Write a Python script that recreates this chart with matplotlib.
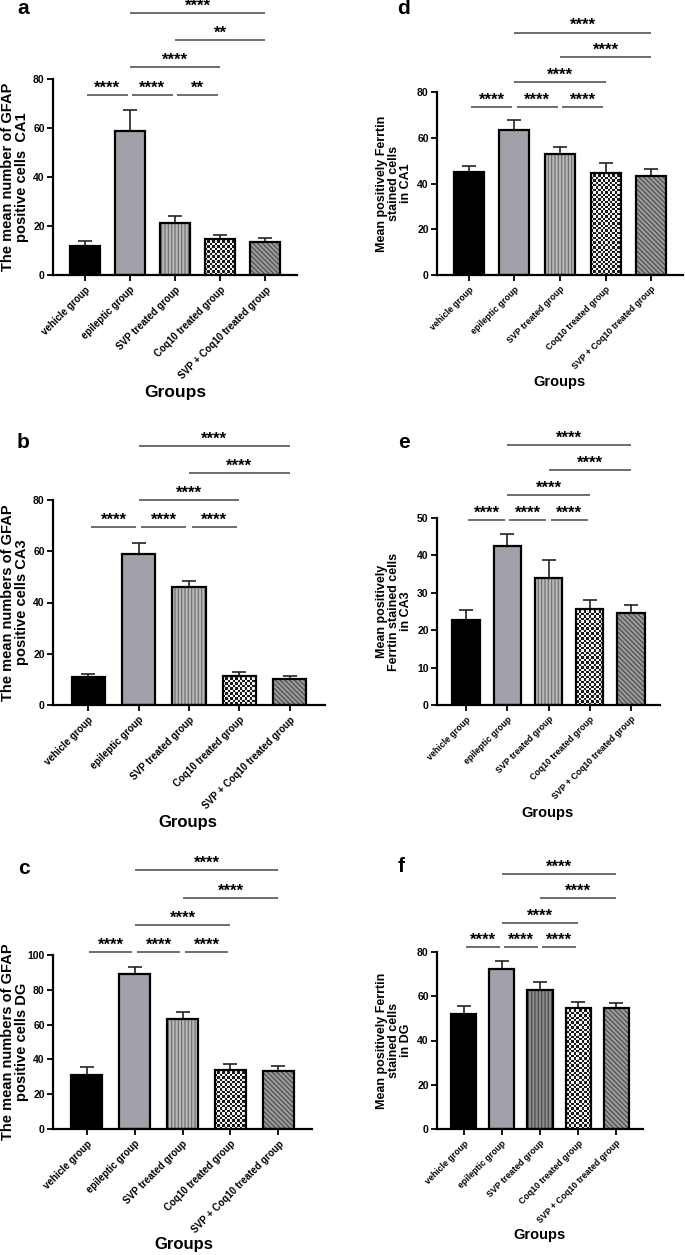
import numpy as np
import matplotlib
matplotlib.use('Agg')
import matplotlib.pyplot as plt

plt.rcParams['font.family'] = ['Liberation Sans', 'DejaVu Sans']
plt.rcParams['font.weight'] = 'bold'
plt.rcParams['hatch.linewidth'] = 0.8

W, H = 685, 1255

groups = ['vehicle group', 'epileptic group', 'SVP treated group',
          'Coq10 treated group', 'SVP + Coq10 treated group']

# panel values (mean, SEM)
a_mean = [11.9, 58.7, 21.3, 14.8, 13.6]
a_err = [2.0, 8.7, 2.8, 1.5, 1.4]
b_mean = [10.8, 58.8, 45.9, 11.4, 10.3]
b_err = [1.2, 4.4, 2.5, 1.5, 1.0]
c_mean = [30.8, 89.1, 63.3, 34.0, 33.5]
c_err = [4.6, 3.8, 3.8, 3.1, 2.6]
d_mean = [44.9, 63.3, 52.9, 44.7, 43.4]
d_err = [2.8, 4.4, 3.2, 4.4, 2.8]
e_mean = [22.8, 42.4, 33.9, 25.8, 24.7]
e_err = [2.5, 3.4, 5.0, 2.3, 2.1]
f_mean = [51.8, 72.3, 62.9, 54.8, 54.8]
f_err = [3.6, 3.8, 3.4, 2.6, 2.1]

# significance comparisons: (group i, group j, level)
pairs = [(0, 1, 0), (1, 2, 0), (2, 3, 0), (1, 3, 1), (2, 4, 2), (1, 4, 3)]
a_stars = ['****', '****', '**', '****', '**', '****']
all_stars = ['****'] * 6

fig = plt.figure(figsize=(W / 100, H / 100), dpi=100)


def px_axes(x0, x1, ytop, ybot):
    return fig.add_axes([x0 / W, 1 - ybot / H, (x1 - x0) / W, (ybot - ytop) / H])


def panel(box, means, errs, ymax, ystep, levels, stars, letter, letter_xy,
          ylabel, ylab_x, ylab_fs, groups_xy, groups_fs, xt_fs, svp_dark=False):
    ax = px_axes(*box)
    x = np.arange(len(means))
    w = 0.66
    xlim = (-0.7, 4.7)
    ax.set_xlim(*xlim)
    ax.set_ylim(0, ymax)

    faces = ['black', '#a1a1a9', '#b8b8b8' if not svp_dark else '#8a8a8a', 'white', '#9a9a9a']
    hatches = [None, None, '|||||', None, '\\\\\\\\\\\\\\']
    hcolors = ['black', 'black', '#6a6a6a' if not svp_dark else '#4a4a4a', 'black', '#4a4a4a']
    for i in range(len(means)):
        ax.bar(x[i], means[i], w, color=faces[i], hatch=hatches[i],
               edgecolor=hcolors[i], linewidth=0, zorder=2)
        bar = ax.bar(x[i], means[i], w, fill=False, edgecolor='black',
                     linewidth=1.6, zorder=4)[0]
        if i == 3:
            # checkered texture
            p0 = ax.transData.transform((x[i] - w / 2, 0))
            p1 = ax.transData.transform((x[i] + w / 2, means[i]))
            nc = max(2, int(round((p1[0] - p0[0]) / 2.4)))
            nr = max(2, int(round((p1[1] - p0[1]) / 2.4)))
            tex = (np.add.outer(np.arange(nr), np.arange(nc)) % 2) * 0.85 + 0.1
            im = ax.imshow(tex, cmap='gray', vmin=0, vmax=1, aspect='auto',
                           interpolation='nearest', zorder=3,
                           extent=(x[i] - w / 2, x[i] + w / 2, 0, means[i]))
            im.set_clip_path(bar)
    ax.set_xlim(*xlim)
    ax.set_ylim(0, ymax)
    ax.errorbar(x, means, yerr=[np.zeros(len(errs)), errs], fmt='none',
                ecolor='#222222', elinewidth=1.2, capsize=5, capthick=1.2, zorder=1)

    for (i, j, lv), s in zip(pairs, stars):
        y = levels[lv]
        x1, x2 = i, j
        if lv == 0:
            x1 += 0.05
            x2 -= 0.05
        ax.plot([x1, x2], [y, y], color='#555555', lw=1.2, clip_on=False,
                solid_capstyle='butt')
        ax.annotate(s, ((x1 + x2) / 2, y), xytext=(0, -0.5), textcoords='offset points',
                    ha='center', va='bottom', fontsize=12, fontweight='bold',
                    annotation_clip=False)

    for sp in ['top', 'right']:
        ax.spines[sp].set_visible(False)
    for sp in ['left', 'bottom']:
        ax.spines[sp].set_linewidth(1.6)
    ax.set_yticks(np.arange(0, ymax + 0.1, ystep))
    ax.set_xticks(x)
    ax.set_xticklabels(groups, rotation=45, ha='right', rotation_mode='anchor',
                       fontweight='bold')
    ax.tick_params(axis='both', length=4, width=1.3, labelsize=7.5, pad=2)
    ax.tick_params(axis='x', labelsize=xt_fs, pad=3)
    for t in ax.get_yticklabels():
        t.set_fontweight('bold')

    fig.text(letter_xy[0] / W, 1 - letter_xy[1] / H, letter, fontsize=15,
             fontweight='bold', ha='center', va='center')
    yc = (box[2] + box[3]) / 2
    fig.text(ylab_x / W, 1 - yc / H, ylabel, rotation=90, ha='center', va='center',
             multialignment='center', fontsize=ylab_fs, fontweight='bold',
             linespacing=1.0)
    fig.text(groups_xy[0] / W, 1 - groups_xy[1] / H, 'Groups', ha='center',
             va='center', fontsize=groups_fs, fontweight='bold')
    return ax


panel((53, 297, 79, 275), a_mean, a_err, 80, 20, [73.5, 85, 96, 107], a_stars,
      'a', (23, 9), 'The mean number of GFAP\npositive cells  CA1', 15, 10.5,
      (175, 393), 12.5, 7)
panel((53, 325, 500, 705), b_mean, b_err, 80, 20, [69.5, 80, 90.7, 101], all_stars,
      'b', (23, 443), 'The mean numbers of GFAP\npositive cells CA3', 15, 10.5,
      (188, 822), 12, 7)
panel((53, 312, 955, 1129), c_mean, c_err, 100, 20, [101.7, 117, 133, 148.6], all_stars,
      'c', (24, 868), 'The mean numbers of GFAP\npositive cells DG', 15, 10.5,
      (184, 1245), 12, 7)
panel((437, 683, 92, 275), d_mean, d_err, 80, 20, [73.4, 84.3, 95.2, 106], all_stars,
      'd', (404, 9), 'Mean positively Ferrtin\nstained cells\nin CA1', 394, 9,
      (560, 382), 10.5, 6.3)
panel((437, 660, 518, 705), e_mean, e_err, 50, 10, [49.5, 56.1, 62.8, 69.6], all_stars,
      'e', (404, 443), 'Mean positively\nFerrtin stained cells\nin CA3', 394, 9,
      (547, 813), 10.5, 6.3)
panel((437, 643, 952, 1129), f_mean, f_err, 80, 20, [82.3, 93.3, 104.3, 115.4], all_stars,
      'f', (401, 867), 'Mean positively Ferrtin\nstained cells\nin DG', 394, 9,
      (539, 1235), 10.5, 6.3, svp_dark=True)

fig.savefig('out.png', dpi=100)
